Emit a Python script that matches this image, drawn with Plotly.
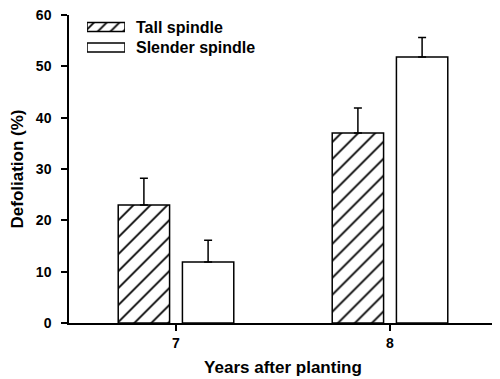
import plotly.graph_objects as go

years = [7, 8]
series_names = ["Tall spindle", "Slender spindle"]
tall_values = [23.0, 37.0]
tall_errors = [5.2, 4.9]
slender_values = [11.9, 51.8]
slender_errors = [4.2, 3.8]
y_ticks = [0, 10, 20, 30, 40, 50, 60]

FONT = "Liberation Sans, Arial, sans-serif"
HATCH = dict(fgcolor="black", bgcolor="white", fgopacity=1)

fig = go.Figure()
fig.add_trace(go.Bar(
    x=years, y=tall_values, name=series_names[0], showlegend=False,
    marker=dict(color="white", line=dict(color="black", width=1.5),
                pattern=dict(shape="/", size=12, solidity=0.15, **HATCH)),
    error_y=dict(type="data", array=tall_errors, symmetric=False, arrayminus=[0, 0],
                 color="black", thickness=1.5, width=4),
))
fig.add_trace(go.Bar(
    x=years, y=slender_values, name=series_names[1], showlegend=False,
    marker=dict(color="white", line=dict(color="black", width=1.5)),
    error_y=dict(type="data", array=slender_errors, symmetric=False, arrayminus=[0, 0],
                 color="black", thickness=1.5, width=4),
))

# legend key (swatches drawn as bars on a small overlay axis)
legend_rows = [1, 0]
fig.add_trace(go.Bar(
    x=[1, 1], y=legend_rows, orientation="h", xaxis="x2", yaxis="y2",
    width=0.44, offset=-0.22, showlegend=False, hoverinfo="skip",
    marker=dict(color="white", line=dict(color="black", width=1.5),
                pattern=dict(shape=["/", ""], size=9, solidity=0.2, **HATCH)),
))
for name, row in zip(series_names, legend_rows):
    fig.add_annotation(text=name, xref="paper", yref="y2", x=0.152, y=row,
                       xanchor="left", yanchor="middle", showarrow=False,
                       font=dict(family=FONT, size=16, color="black", weight="bold"))

fig.update_layout(
    width=492, height=371,
    margin=dict(l=61, r=3, t=7, b=56, autoexpand=False),
    paper_bgcolor="white", plot_bgcolor="white",
    barmode="group", bargap=0.4, bargroupgap=0.2,
    font=dict(family=FONT, size=14, color="black", weight="bold"),
    showlegend=False,
    xaxis=dict(range=[6.5, 8.5], tickvals=years, ticktext=[str(y) for y in years],
               showline=True, linecolor="black", linewidth=1.5,
               ticks="outside", ticklen=6, tickwidth=1.5, tickcolor="black",
               showgrid=False, zeroline=False, automargin=False,
               title=dict(text="Years after planting", standoff=12,
                          font=dict(size=17, weight="bold"))),
    yaxis=dict(range=[0, 60], tickvals=y_ticks,
               showline=True, linecolor="black", linewidth=1.5,
               ticks="outside", ticklen=6, tickwidth=1.5, tickcolor="black",
               showgrid=False, zeroline=False, ticklabelstandoff=7,
               ticklabeloverflow="allow", automargin=False,
               title=dict(text="Defoliation (%)", standoff=8,
                          font=dict(size=17, weight="bold"))),
    xaxis2=dict(domain=[0.0421, 0.1308], range=[0, 1], visible=False,
                anchor="y2", fixedrange=True),
    yaxis2=dict(domain=[0.8612, 0.9943], range=[-0.5, 1.5], visible=False,
                anchor="x2", fixedrange=True),
)

fig.write_html("out.html")
